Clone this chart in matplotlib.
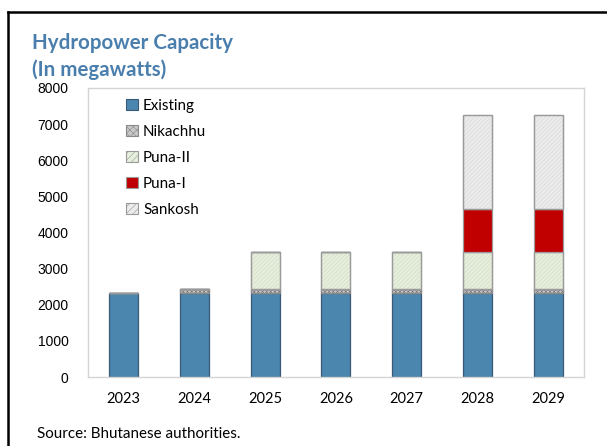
import matplotlib.pyplot as plt
from matplotlib.lines import Line2D
from matplotlib.patches import Patch
import numpy as np

years = ["2023", "2024", "2025", "2026", "2027", "2028", "2029"]
existing = [2326, 2326, 2326, 2326, 2326, 2326, 2326]
nikachhu = [0, 118, 118, 118, 118, 118, 118]
puna2 = [0, 0, 1020, 1020, 1020, 1020, 1020]
puna1 = [0, 0, 0, 0, 0, 1200, 1200]
sankosh = [0, 0, 0, 0, 0, 2585, 2585]

# name, values, fill, edge, hatch, hatch colour
series = [
    ("Existing", existing, "#4a86ad", "#3a5a78", None, None),
    ("Nikachhu", nikachhu, "#c8c8c8", "#8a8a8a", "xxxxxxxx", "#6e6e6e"),
    ("Puna-II", puna2, "#e6efdc", "#9a9a9a", "////////", "#cfd8c6"),
    ("Puna-I", puna1, "#c00000", "#9a9a9a", None, None),
    ("Sankosh", sankosh, "#ececec", "#9a9a9a", "////////", "#d4d4d4"),
]

plt.rcParams['font.family'] = ['Lato', 'DejaVu Sans']
plt.rcParams['hatch.linewidth'] = 0.4

fig = plt.figure(figsize=(6.07, 4.46), dpi=100)
ax = fig.add_axes([0.145, 0.1547, 0.817, 0.648])

x = np.arange(len(years))
bottom = np.zeros(len(years))
handles = []
for name, vals, fc, ec, hatch, hc in series:
    vals = np.array(vals, dtype=float)
    ax.bar(x, vals, width=0.41, bottom=bottom, color=fc, edgecolor=ec,
           linewidth=0.9)
    if hatch:
        # fine hatch overlay in its own colour
        ax.bar(x, vals, width=0.41, bottom=bottom, color='none',
               edgecolor=hc, linewidth=0, hatch=hatch)
        ax.bar(x, vals, width=0.41, bottom=bottom, color='none',
               edgecolor=ec, linewidth=0.9)
        handles.append(Patch(facecolor=fc, edgecolor=ec, hatch="xxxxx" if name == "Nikachhu" else "/////",
                             linewidth=0.8, label=name))
    else:
        handles.append(Patch(facecolor=fc, edgecolor=ec, linewidth=0.8, label=name))
    bottom += vals

ax.set_xlim(-0.5, len(years) - 0.5)
ax.set_ylim(0, 8000)
ax.set_yticks(range(0, 8001, 1000))
ax.set_xticks(x)
ax.set_xticklabels(years, fontsize=10.5)
ax.tick_params(axis='y', length=0, pad=14, labelsize=10)
ax.tick_params(axis='x', length=0, pad=11)
for lab in ax.get_yticklabels():
    lab.set_fontfamily('Liberation Sans')
for sp in ax.spines.values():
    sp.set_color("#d4d4d4")
    sp.set_linewidth(1.0)

ax.legend(handles=handles, loc='upper left', bbox_to_anchor=(0.05, 1.01),
          frameon=False, fontsize=10.9, handlelength=0.75, handleheight=0.75,
          handletextpad=0.35, labelspacing=0.8)

fig.text(32 / 607, 1 - 43 / 446, "Hydropower Capacity", color="#4a7fad",
         fontsize=14.8, fontweight='bold', va='center', ha='left')
fig.text(32 / 607, 1 - 70 / 446, "(In megawatts)", color="#4a7fad",
         fontsize=14.8, fontweight='bold', va='center', ha='left')
fig.text(37 / 607, 1 - 434 / 446, "Source: Bhutanese authorities.",
         fontsize=10.9, va='center', ha='left')

# outer frame (top and left edges)
fig.add_artist(Line2D([8 / 607, 1.0], [1 - 11.5 / 446, 1 - 11.5 / 446],
                      color='black', linewidth=1.8, transform=fig.transFigure))
fig.add_artist(Line2D([8 / 607, 8 / 607], [0, 1 - 11.5 / 446],
                      color='black', linewidth=1.8, transform=fig.transFigure))

fig.savefig("out.png", dpi=100)
